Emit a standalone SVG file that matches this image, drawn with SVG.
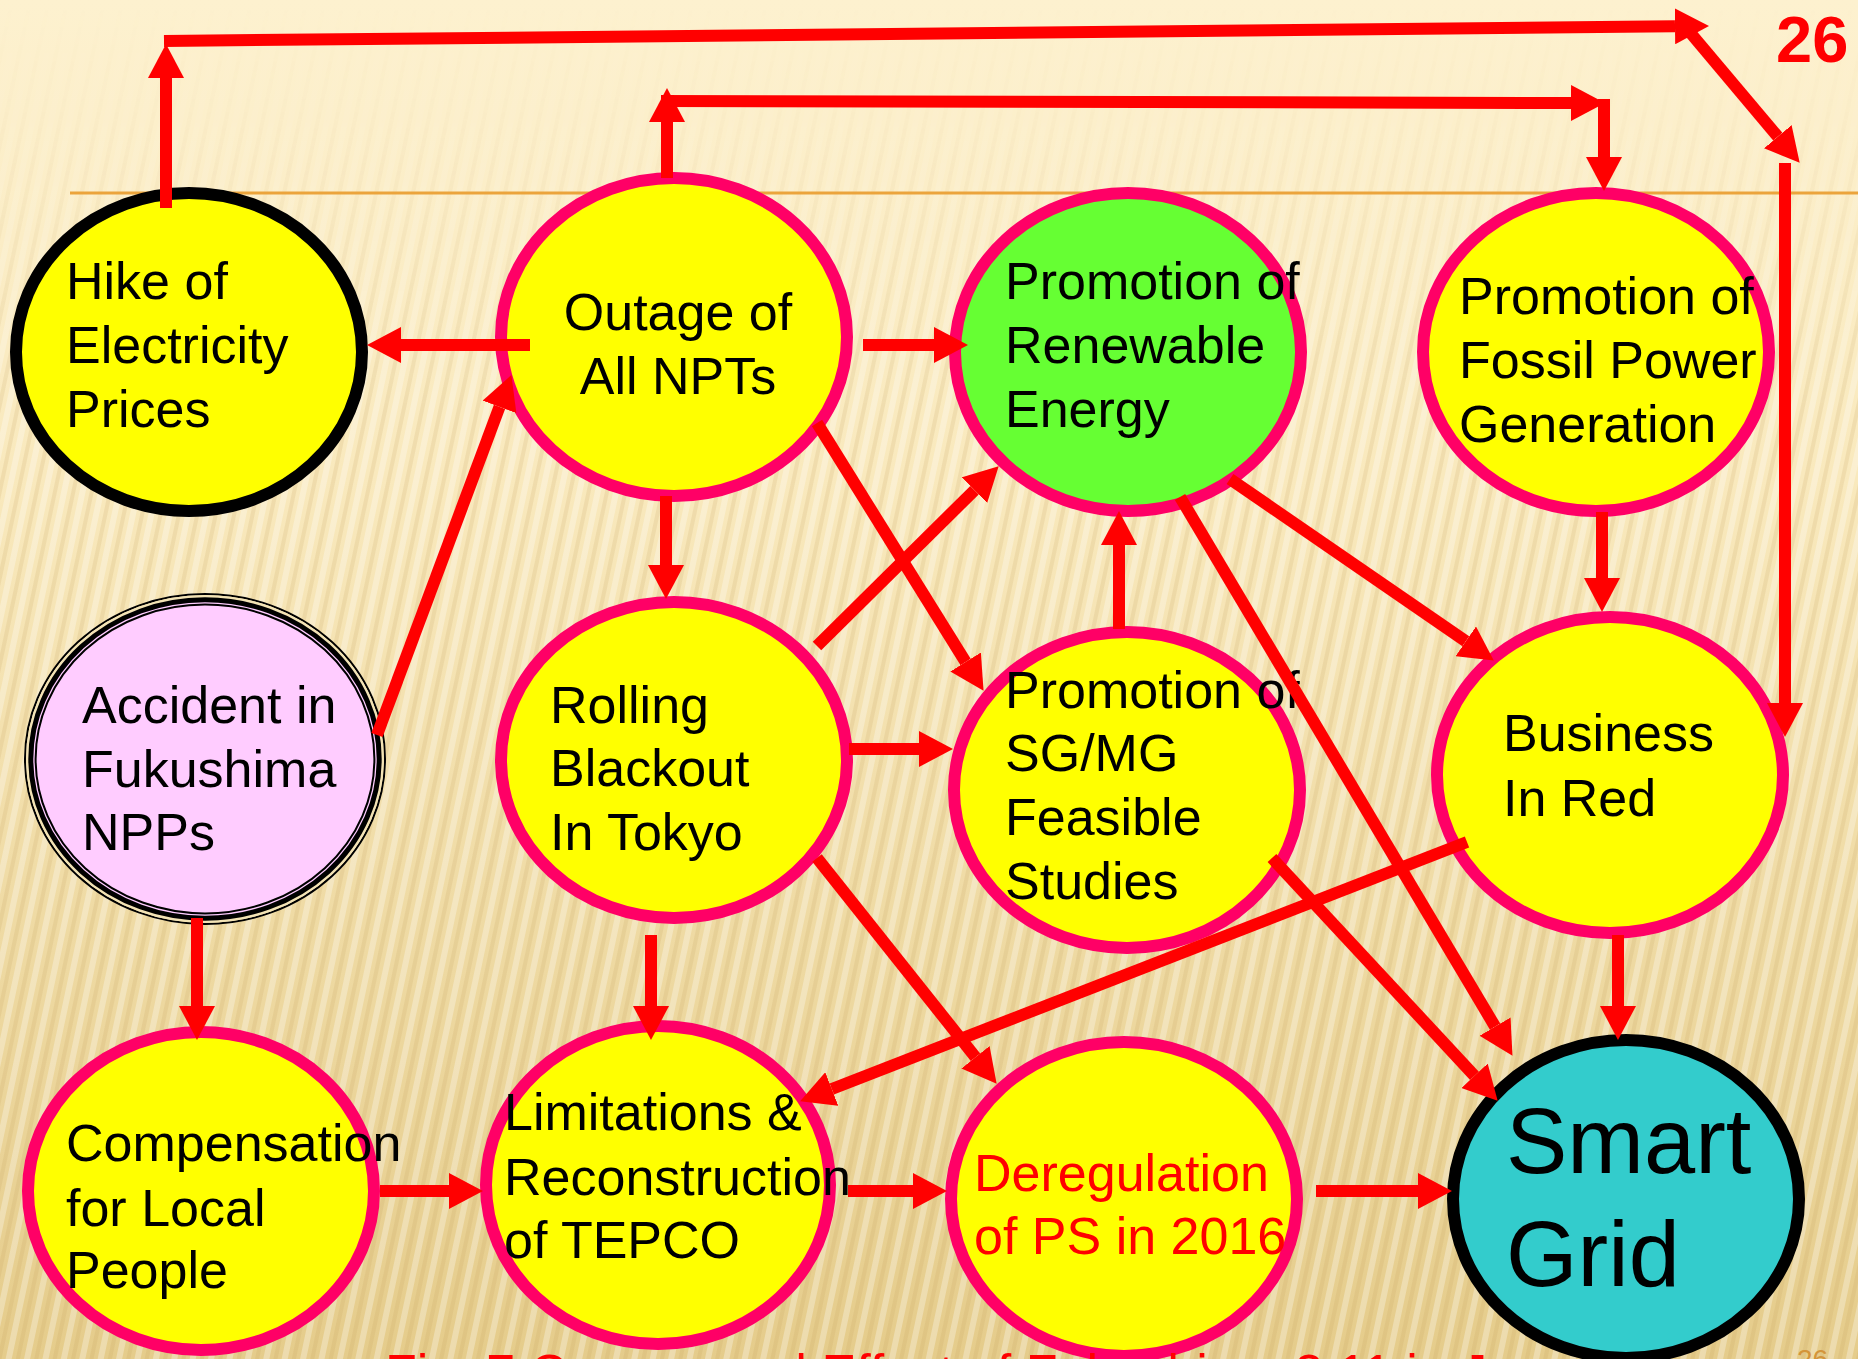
<svg xmlns="http://www.w3.org/2000/svg" width="1858" height="1359" viewBox="0 0 1858 1359">
  <defs>
    <linearGradient id="bg" x1="0" y1="0" x2="0" y2="1">
      <stop offset="0" stop-color="#fdf1cf"/>
      <stop offset="0.35" stop-color="#f9e9bd"/>
      <stop offset="1" stop-color="#e5cc8b"/>
    </linearGradient>
    <pattern id="stripes" width="18" height="18" patternUnits="userSpaceOnUse" patternTransform="rotate(12)">
      <rect width="6" height="18" fill="#ffffff" opacity="0.3"/>
      <rect x="10" width="4" height="18" fill="#c19e55" opacity="0.16"/>
    </pattern>
    <linearGradient id="fade" x1="0" y1="0" x2="0" y2="1">
      <stop offset="0" stop-color="#fff" stop-opacity="0"/>
      <stop offset="0.08" stop-color="#fff" stop-opacity="0.15"/>
      <stop offset="0.3" stop-color="#fff" stop-opacity="1"/>
    </linearGradient>
    <mask id="stripeMask">
      <rect width="1858" height="1359" fill="url(#fade)"/>
    </mask>
    <marker id="ah" markerUnits="userSpaceOnUse" markerWidth="34" markerHeight="36" viewBox="0 0 34 36" refX="0" refY="18" orient="auto">
      <path d="M0,0 L34,18 L0,36 z" fill="#ff0000"/>
    </marker>
    <style>
      .t { font-family: "Liberation Sans", Arial, sans-serif; font-size: 52px; fill: #000; }
      .pink { fill: #ffff00; stroke: #ff0066; stroke-width: 12; }
      .blk { stroke: #000; stroke-width: 12; }
      .c { fill: none; stroke: #ff0000; stroke-width: 12; stroke-linecap: butt; marker-end: url(#ah); }
    </style>
  </defs>

  <!-- background -->
  <rect width="1858" height="1359" fill="url(#bg)"/>
  <rect width="1858" height="1359" fill="url(#stripes)" mask="url(#stripeMask)"/>
  <line x1="70" y1="193" x2="1858" y2="193" stroke="#eba43c" stroke-width="3"/>

  <!-- slide number -->
  <text x="1776" y="62" font-family="Liberation Sans, Arial, sans-serif" font-size="65" font-weight="bold" fill="#ff0000">26</text>

  <!-- nodes -->
  <g id="hike">
    <ellipse cx="189" cy="352" rx="173" ry="159" fill="#ffff00" class="blk"/>
    <text class="t" x="66" y="299">Hike of</text>
    <text class="t" x="66" y="363">Electricity</text>
    <text class="t" x="66" y="427">Prices</text>
  </g>
  <g id="outage">
    <ellipse cx="674" cy="337" rx="173" ry="159" class="pink"/>
    <text class="t" x="678" y="330" text-anchor="middle">Outage of</text>
    <text class="t" x="678" y="394" text-anchor="middle">All NPTs</text>
  </g>
  <g id="renewable">
    <ellipse cx="1128" cy="352" rx="173" ry="159" class="pink" style="fill:#66ff33"/>
    <text class="t" x="1005" y="299">Promotion of</text>
    <text class="t" x="1005" y="363">Renewable</text>
    <text class="t" x="1005" y="427">Energy</text>
  </g>
  <g id="fossil">
    <ellipse cx="1596" cy="352" rx="173" ry="159" class="pink"/>
    <text class="t" x="1459" y="314">Promotion of</text>
    <text class="t" x="1459" y="378">Fossil Power</text>
    <text class="t" x="1459" y="442">Generation</text>
  </g>
  <g id="accident">
    <ellipse cx="205" cy="759" rx="180" ry="165" fill="none" stroke="#000" stroke-width="2"/>
    <ellipse cx="205" cy="759" rx="177.8" ry="162.8" fill="none" stroke="#f3e3b5" stroke-width="2.3"/>
    <ellipse cx="205" cy="759" rx="174.2" ry="159.2" fill="#ffccff" stroke="#000" stroke-width="5"/>
    <ellipse cx="205" cy="759" rx="169.4" ry="154.4" fill="none" stroke="#000" stroke-width="2"/>
    <text class="t" x="82" y="723">Accident in</text>
    <text class="t" x="82" y="787">Fukushima</text>
    <text class="t" x="82" y="850">NPPs</text>
  </g>
  <g id="rolling">
    <ellipse cx="674" cy="760" rx="173" ry="158" class="pink"/>
    <text class="t" x="550" y="723">Rolling</text>
    <text class="t" x="550" y="786">Blackout</text>
    <text class="t" x="550" y="850">In Tokyo</text>
  </g>
  <g id="sgmg">
    <ellipse cx="1127" cy="790" rx="173" ry="158" class="pink"/>
    <text class="t" x="1005" y="708">Promotion of</text>
    <text class="t" x="1005" y="771">SG/MG</text>
    <text class="t" x="1005" y="835">Feasible</text>
    <text class="t" x="1005" y="899">Studies</text>
  </g>
  <g id="business">
    <ellipse cx="1610" cy="775" rx="173" ry="158" class="pink"/>
    <text class="t" x="1503" y="751">Business</text>
    <text class="t" x="1503" y="816">In Red</text>
  </g>
  <g id="compensation">
    <ellipse cx="201" cy="1191" rx="173" ry="159" class="pink"/>
    <text class="t" x="66" y="1161">Compensation</text>
    <text class="t" x="66" y="1226">for Local</text>
    <text class="t" x="66" y="1288">People</text>
  </g>
  <g id="limitations">
    <ellipse cx="658" cy="1185" rx="172" ry="159" class="pink"/>
    <text class="t" x="504" y="1130">Limitations &amp;</text>
    <text class="t" x="504" y="1195">Reconstruction</text>
    <text class="t" x="504" y="1258">of TEPCO</text>
  </g>
  <g id="deregulation">
    <ellipse cx="1124" cy="1199" rx="173" ry="157" class="pink"/>
    <text class="t" x="974" y="1191" style="fill:#ff0000">Deregulation</text>
    <text class="t" x="974" y="1254" style="fill:#ff0000">of PS in 2016</text>
  </g>
  <g id="smartgrid">
    <ellipse cx="1626" cy="1199" rx="173" ry="159" fill="#33cccc" class="blk"/>
    <text class="t" x="1506" y="1173" style="font-size:92px">Smart</text>
    <text class="t" x="1506" y="1286" style="font-size:92px">Grid</text>
  </g>

  <!-- connectors -->
  <g id="connectors">
    <path class="c" d="M166,208 L166,78"/>
    <path class="c" d="M164,41 L1675,26.3"/>
    <path class="c" d="M1688,30 L1777.8,136.7"/>
    <path class="c" d="M1785,163 L1785,703"/>
    <path class="c" d="M667,178 L667,122"/>
    <path class="c" d="M661,101 L1571,103"/>
    <path class="c" d="M1604,99 L1604,157"/>
    <path class="c" d="M530,345 L401,345"/>
    <path class="c" d="M863,345 L934,345"/>
    <path class="c" d="M666,496 L666,565"/>
    <path class="c" d="M377,735 L499.5,406.9"/>
    <path class="c" d="M817,423 L965.6,662"/>
    <path class="c" d="M817,646 L974.5,490.2"/>
    <path class="c" d="M849,749 L919,749"/>
    <path class="c" d="M651,935 L651,1006"/>
    <path class="c" d="M817,858 L975.5,1057.2"/>
    <path class="c" d="M1119,629 L1119,545"/>
    <path class="c" d="M1230,479 L1465.8,641.3"/>
    <path class="c" d="M1180,497 L1495.1,1026.6"/>
    <path class="c" d="M1602,512 L1602,578"/>
    <path class="c" d="M1272,858 L1474.5,1075.8"/>
    <path class="c" d="M1467,842 L831.8,1089"/>
    <path class="c" d="M1618,935 L1618,1006"/>
    <path class="c" d="M197,918 L197,1006"/>
    <path class="c" d="M380,1191 L449,1191"/>
    <path class="c" d="M848,1191 L913,1191"/>
    <path class="c" d="M1316,1191 L1418,1191"/>
  </g>

  <!-- caption, mostly below the lower edge -->
  <text x="385" y="1391" font-family="Liberation Sans, Arial, sans-serif" font-size="52" fill="#ff0000">Fig. 7 Causes and Effect of Fukushima 3.11 in Japan</text>
  <text x="1797" y="1369" font-family="Liberation Sans, Arial, sans-serif" font-size="28" fill="#d4953a">26</text>
</svg>
